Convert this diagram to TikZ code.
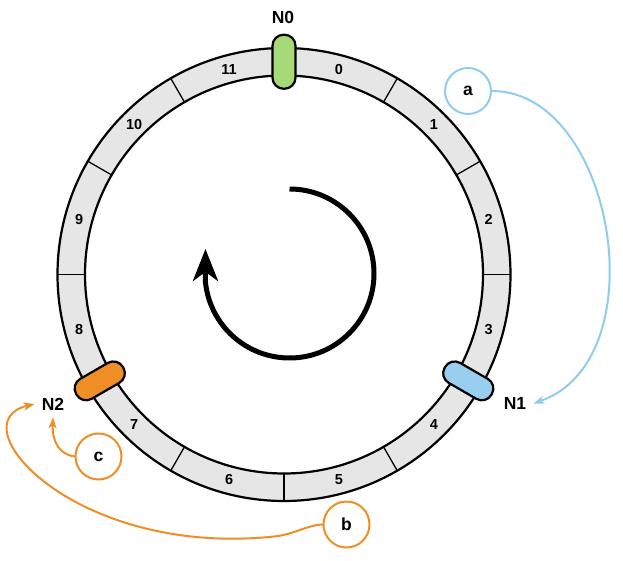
\documentclass[tikz,border=0pt]{standalone}
\usepackage{fontspec}
\setmainfont{Liberation Sans}
\usepackage{xcolor}
\usepackage{tikz}
\usetikzlibrary{arrows.meta,calc,positioning}
\definecolor{ringgray}{RGB}{230,230,230}
\definecolor{nodegreen}{RGB}{166,217,119}
\definecolor{nodeblue}{RGB}{153,206,240}
\definecolor{nodeorange}{RGB}{240,142,38}
\definecolor{keyblue}{RGB}{145,204,238}

\begin{document}
\begin{tikzpicture}[x=1pt,y=1pt,line cap=round,line join=round,
  capsule/.style={draw=black,line width=2.2pt,rounded corners=11pt,minimum width=23pt,minimum height=54pt,inner sep=0pt},
  slotlabel/.style={font=\fontsize{14.5}{14.5}\selectfont\bfseries},
  nodelabel/.style={font=\fontsize{17.5}{17.5}\selectfont\bfseries,inner sep=7pt},
  keycircle/.style={circle,draw,line width=2pt,fill=white,minimum size=46pt,inner sep=0pt,font=\fontsize{17.5}{17.5}\selectfont\bfseries},
  keyarrow/.style={line width=2pt,-{Stealth[length=11pt,width=8pt,inset=3pt]}}]
\useasboundingbox (-284,-286.5) rectangle (339,274.5);
\coordinate (O) at (0,0);
% the ring and its twelve slots
\fill[ringgray,even odd rule] (O) circle[radius=226.5] (O) circle[radius=199];
\draw[line width=2.2pt] (O) circle[radius=226.5];
\draw[line width=2.2pt] (O) circle[radius=199];
\foreach \a in {0,30,...,330} \draw[line width=1.3pt] (\a:199) -- (\a:226.5);
\foreach \k in {0,...,11} \node[slotlabel] (s\k) at ({75-30*\k}:212) {\k};
% direction of the ring
\draw[line width=5pt,line cap=butt,-{Stealth[length=32pt,width=25pt,inset=9pt]}] (5.5,85.5) arc[start angle=90,end angle=-174,radius=84.5] -- ++(0,33.4);
% servers
\node[capsule,fill=nodegreen] (c0) at (90:212.75) {};
\node[capsule,fill=nodeblue,rotate=-120] (c1) at (-30:212.75) {};
\node[capsule,fill=nodeorange,rotate=120] (c2) at (210:212.75) {};
\node[nodelabel] (N0) at (-1,257.5) {N0};
\node[nodelabel] (N1) at (231,-129) {N1};
\node[nodelabel] (N2) at (-231,-129.5) {N2};
% keys
\node[keycircle,draw=keyblue] (a) at (184,183.5) {a};
\node[keycircle,draw=nodeorange] (b) at (62.5,-250) {b};
\node[keycircle,draw=nodeorange] (c) at (-185.5,-182) {c};
\draw[keyarrow,keyblue] (a.east) .. controls (330,183.5) and (375,-85) .. (N1.east);
\draw[keyarrow,nodeorange] (c.west) .. controls (-224,-180) and (-232,-168) .. (N2.south);
\draw[keyarrow,nodeorange] (b.west) .. controls (25,-250) and (10,-260) .. (-10,-262) .. controls (-210,-283) and (-328,-148) .. (N2.west);
%\draw[keyarrow,nodeorange] (b.west) to[out=180,in=10] (N2.west);
\end{tikzpicture}
\end{document}
